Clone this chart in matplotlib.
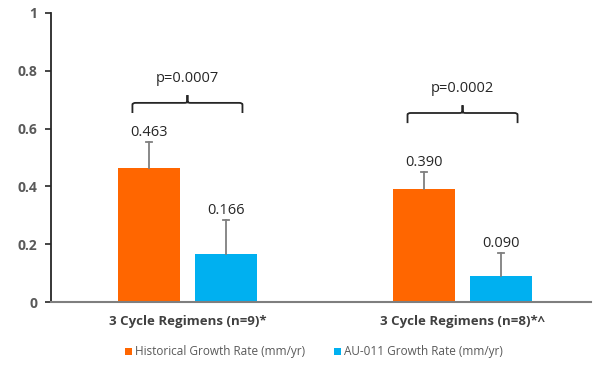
import matplotlib
import numpy as np

matplotlib.use("Agg")
import matplotlib.pyplot as plt
from matplotlib.patches import PathPatch
from matplotlib.path import Path

CATEGORIES = ["3 Cycle Regimens (n=9)*", "3 Cycle Regimens (n=8)*^"]
HISTORICAL = [0.463, 0.390]
AU011 = [0.166, 0.090]
HIST_ERR = [0.091, 0.060]
AU_ERR = [0.118, 0.080]
P_VALUES = ["p=0.0007", "p=0.0002"]
SERIES_NAMES = ["Historical Growth Rate (mm/yr)", "AU-011 Growth Rate (mm/yr)"]

ORANGE = "#FF6600"
BLUE = "#00B0F0"
TEXT_GRAY = "#595959"

plt.rcParams["font.family"] = ["Open Sans", "DejaVu Sans"]

fig = plt.figure(figsize=(5.97, 3.65), dpi=100)
ax = fig.add_axes([51 / 597, 1 - 302 / 365, 540 / 597, 289 / 365])

x = np.arange(len(CATEGORIES))
width = 0.225
offset = 0.14

ax.bar(x - offset, HISTORICAL, width, color=ORANGE, label=SERIES_NAMES[0])
ax.bar(x + offset, AU011, width, color=BLUE, label=SERIES_NAMES[1])

# upper-only error bars, cap only at the top
for xs, vals, errs in [(x - offset, HISTORICAL, HIST_ERR), (x + offset, AU011, AU_ERR)]:
    for xi, v, e in zip(xs, vals, errs):
        ax.plot([xi, xi], [v, v + e], color="#7f7f7f", lw=1.3, zorder=3)
        ax.plot([xi - 0.012, xi + 0.012], [v + e, v + e], color="#7f7f7f", lw=1.3, zorder=3)
        ax.text(xi, v + e + 0.034, f"{v:.3f}", ha="center", va="center",
                fontsize=10.5, color="#262626")


def brace(ax, xc, half, y, drop, tick):
    r = 0.012
    verts = [
        (xc - half, y - drop),
        (xc - half, y - r * 0.5), (xc - half, y), (xc - half + r, y),
        (xc - r, y),
        (xc, y), (xc, y + r * 0.3), (xc, y + tick),
        (xc, y + r * 0.3), (xc, y), (xc + r, y),
        (xc + half - r, y),
        (xc + half, y), (xc + half, y - r * 0.5), (xc + half, y - drop),
    ]
    codes = [Path.MOVETO,
             Path.LINETO, Path.CURVE3, Path.CURVE3,
             Path.LINETO,
             Path.CURVE3, Path.CURVE3, Path.LINETO,
             Path.LINETO, Path.CURVE3, Path.CURVE3,
             Path.LINETO,
             Path.CURVE3, Path.CURVE3, Path.LINETO]
    ax.add_patch(PathPatch(Path(verts, codes), fill=False, edgecolor="#262626", lw=1.3))


bracket_y = [0.689, 0.654]
for xi, by, p in zip(x, bracket_y, P_VALUES):
    brace(ax, xi, 0.2, by, 0.035, 0.027)
    ax.text(xi, by + 0.086, p, ha="center", va="center", fontsize=10.5, color="#262626")

ax.set_xlim(-0.496, 1.467)
ax.set_ylim(0, 1)
ax.set_yticks([0, 0.2, 0.4, 0.6, 0.8, 1.0])
ax.set_yticklabels(["0", "0.2", "0.4", "0.6", "0.8", "1"], fontsize=10,
                   fontweight="bold", color=TEXT_GRAY)
ax.set_xticks(x)
ax.set_xticklabels(CATEGORIES, fontsize=9.5, fontweight="bold", color="#404040")
ax.tick_params(axis="x", length=0, pad=9)
ax.tick_params(axis="y", length=4, width=1.2, color="#262626", pad=6)

ax.spines["top"].set_visible(False)
ax.spines["right"].set_visible(False)
ax.spines["left"].set_color("#262626")
ax.spines["left"].set_linewidth(1.3)
ax.spines["bottom"].set_color("#7f7f7f")
ax.spines["bottom"].set_linewidth(1.5)

leg = fig.legend(loc="center", bbox_to_anchor=(314 / 597, 1 - 352 / 365), ncol=2,
                 frameon=False, fontsize=8.5, handlelength=0.6, handleheight=0.6,
                 handletextpad=0.3, columnspacing=2.4)
for t in leg.get_texts():
    t.set_color(TEXT_GRAY)

fig.savefig("out.png", dpi=100)
